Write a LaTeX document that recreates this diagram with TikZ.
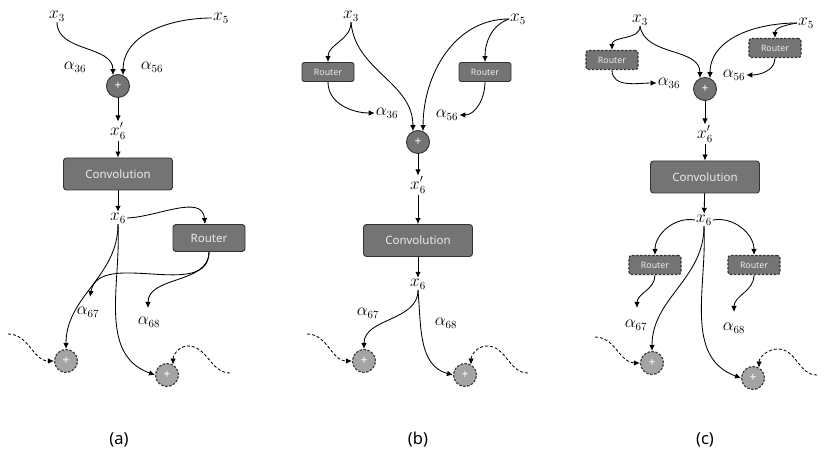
\documentclass[tikz,border=0pt]{standalone}
\usepackage{fontspec}
\setsansfont{Noto Sans}
\usetikzlibrary{arrows.meta}
\definecolor{boxg}{HTML}{747474}
\definecolor{dsg}{HTML}{A4A4A4}
\definecolor{edg}{HTML}{333333}
\begin{document}
\begin{tikzpicture}[x=1pt,y=1pt,
  arr/.style={-{Latex[length=6pt,width=5.5pt]}, line width=0.85pt},
  darr/.style={arr, dash pattern=on 3pt off 2pt},
  lbl/.style={inner sep=1pt, font=\fontsize{16}{18}\selectfont},
  conv/.style={draw=edg, fill=boxg, rounded corners=3pt, line width=0.9pt, minimum width=109pt, minimum height=32pt, text=white!92!black, font=\sffamily\fontsize{11.5}{13}\selectfont},
  rtbig/.style={draw=edg, fill=boxg, rounded corners=3pt, line width=0.9pt, minimum width=72pt, minimum height=27pt, text=white!92!black, font=\sffamily\fontsize{11.5}{13}\selectfont},
  rtsm/.style={draw=edg, fill=boxg, rounded corners=2.5pt, line width=0.9pt, minimum width=52pt, minimum height=19pt, inner sep=0pt, text=white!92!black, font=\sffamily\fontsize{8.8}{10}\selectfont},
  rtdash/.style={rtsm, dash pattern=on 2.5pt off 1.5pt, line width=1.1pt},
  sumn/.style={circle, draw=edg, fill=boxg, line width=0.9pt, minimum size=23pt, inner sep=0pt, text=white, font=\sffamily\bfseries\fontsize{12}{12}\selectfont},
  dsum/.style={sumn, fill=dsg, dash pattern=on 2.5pt off 1.5pt, line width=1.1pt},
  captxt/.style={font=\sffamily\fontsize{16.5}{18}\selectfont}
]
\useasboundingbox (0,0) rectangle (831,-462);

% ================= (a) =================
\node[lbl] (a3) at (57,-16) {$x_3$};
\node[lbl] (a5) at (221,-18) {$x_5$};
\node[lbl] (a36) at (75,-67) {$\alpha_{36}$};
\node[lbl] (a56) at (152,-67) {$\alpha_{56}$};
\node[sumn] (ap) at (118,-86) {+};
\node[lbl] (a6p) at (118,-131) {$x_6'$};
\node[conv] (aconv) at (118,-174) {Convolution};
\node[lbl] (a6) at (118,-218) {$x_6$};
\node[rtbig] (ar) at (209,-238) {Router};
\node[lbl] (a67) at (88,-312) {$\alpha_{67}$};
\node[lbl] (a68) at (149,-322) {$\alpha_{68}$};
\node[dsum] (ad1) at (66,-361) {+};
\node[dsum] (ad2) at (167,-375) {+};
\coordinate (ae67) at (90,-297);
\coordinate (ae68) at (148,-308);
\coordinate (adl) at (8,-334);
\coordinate (adr) at (230,-373);
\coordinate (adk) at (188,-346);

\draw[arr] (a3.south) to[out=-90,in=90] (ap.115);
\draw[arr] (a5.west) to[out=180,in=90] (ap.65);
\draw[arr] (ap) -- (a6p);
\draw[arr] (a6p) -- (aconv);
\draw[arr] (aconv) -- (a6);
\draw[arr] (a6.east) to[out=2,in=95] ([xshift=-4pt]ar.north);
\draw[arr] (a6.south) to[out=-90,in=90] (ad1.north);
\draw[arr] (a6.south) to[out=-87,in=160] (ad2.west);
\draw[arr] (ar.south) to[out=-90,in=80] (ae67);
\draw[arr] (ar.south) to[out=-90,in=90] (ae68);
\draw[darr] (adl) to[out=0,in=180] (ad1.west);
\draw[darr] (adr) to[out=180,in=0] (adk) to[out=180,in=90] (ad2.60);

% ================= (b) =================
\node[lbl] (b3) at (351,-16) {$x_3$};
\node[lbl] (b5) at (518,-19) {$x_5$};
\node[rtsm] (br1) at (328,-72) {Router};
\node[rtsm] (br2) at (485,-72) {Router};
\node[lbl] (b36) at (387,-113) {$\alpha_{36}$};
\node[lbl] (b56) at (447,-115) {$\alpha_{56}$};
\node[sumn] (bp) at (418,-142) {+};
\node[lbl] (b6p) at (418,-185) {$x_6'$};
\node[conv] (bconv) at (418,-240.5) {Convolution};
\node[lbl] (b6) at (418,-284) {$x_6$};
\node[lbl] (b67) at (368,-313) {$\alpha_{67}$};
\node[lbl] (b68) at (446,-323) {$\alpha_{68}$};
\node[dsum] (bd1) at (364,-361) {+};
\node[dsum] (bd2) at (465,-375) {+};
\coordinate (bdl) at (307,-334);
\coordinate (bdr) at (528,-373);
\coordinate (bdk) at (487,-346);

\draw[arr] (b3.south) to[out=-90,in=90] (br1.north);
\draw[arr] (b3.south) to[out=-85,in=90] (bp.115);
\draw[arr] (b5.west) to[out=180,in=90] (bp.65);
\draw[arr] (b5.west) to[out=200,in=90] (br2.north);
\draw[arr] (br1.south) to[out=-90,in=180] (b36.west);
\draw[arr] (br2.south) to[out=-90,in=0] (b56.east);
\draw[arr] (bp) -- (b6p);
\draw[arr] (b6p) -- (bconv);
\draw[arr] (bconv) -- (b6);
\draw[arr] (b6.south) to[out=-90,in=90] (bd1.north);
\draw[arr] (b6.south) to[out=-85,in=165] (bd2.west);
\draw[darr] (bdl) to[out=0,in=180] (bd1.west);
\draw[darr] (bdr) to[out=180,in=0] (bdk) to[out=180,in=90] (bd2.60);

% ================= (c) =================
\node[lbl] (c3) at (640,-20) {$x_3$};
\node[lbl] (c5) at (806,-23) {$x_5$};
\node[rtdash] (cr1) at (612,-60) {Router};
\node[rtdash] (cr2) at (775,-48) {Router};
\node[lbl] (c36) at (669,-83) {$\alpha_{36}$};
\node[lbl] (c56) at (734,-75) {$\alpha_{56}$};
\node[sumn] (cp) at (705,-89) {+};
\node[lbl] (c6p) at (705,-134) {$x_6'$};
\node[conv] (cconv) at (705,-177) {Convolution};
\node[lbl] (c6) at (704,-220) {$x_6$};
\node[rtdash] (cr3) at (655,-265) {Router};
\node[rtdash] (cr4) at (754,-265) {Router};
\node[lbl] (c67) at (636,-325) {$\alpha_{67}$};
\node[lbl] (c68) at (734,-328) {$\alpha_{68}$};
\node[dsum] (cd1) at (652,-363) {+};
\node[dsum] (cd2) at (753,-378) {+};
\coordinate (ce67) at (637,-308);
\coordinate (ce68) at (734,-312);
\coordinate (cdl) at (595,-337);
\coordinate (cdr) at (817,-375);
\coordinate (cdk) at (778,-349);

\draw[arr] (c3.south) to[out=-90,in=90] (cr1.north);
\draw[arr] (c3.south) to[out=-80,in=90] (cp.115);
\draw[arr] (c5.west) to[out=180,in=90] (cp.65);
\draw[arr] (c5.west) to[out=190,in=90] (cr2.north);
\draw[arr] (cr1.south) to[out=-90,in=180] (c36.west);
\draw[arr] (cr2.south) to[out=-90,in=0] (c56.east);
\draw[arr] (cp) -- (c6p);
\draw[arr] (c6p) -- (cconv);
\draw[arr] (cconv) -- (c6);
\draw[arr] (c6.west) to[out=170,in=90] (cr3.north);
\draw[arr] (c6.east) to[out=10,in=90] (cr4.north);
\draw[arr] (c6.south) to[out=-90,in=90] (cd1.north);
\draw[arr] (c6.south) to[out=-87,in=160] (cd2.west);
\draw[arr] (cr3.south) to[out=-90,in=90] (ce67);
\draw[arr] (cr4.south) to[out=-90,in=90] (ce68);
\draw[darr] (cdl) to[out=0,in=180] (cd1.west);
\draw[darr] (cdr) to[out=180,in=0] (cdk) to[out=180,in=90] (cd2.60);

% captions
\node[captxt] (capa) at (119,-440) {(a)};
\node[captxt] (capb) at (418,-440) {(b)};
\node[captxt] (capc) at (705,-440) {(c)};
\end{tikzpicture}
\end{document}
